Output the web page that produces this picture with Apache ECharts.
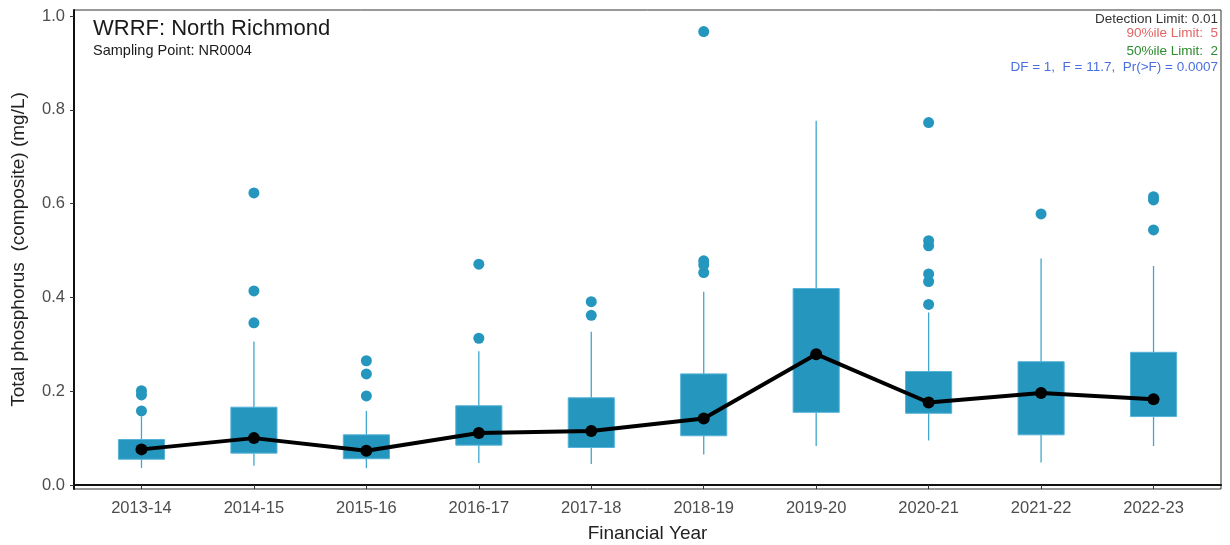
<!DOCTYPE html>
<html>
<head>
<meta charset="utf-8">
<script src="https://cdn.jsdelivr.net/npm/echarts@6/dist/echarts.min.js"></script>
<style>
  html, body { margin: 0; padding: 0; background: #fff; }
  #chart { width: 1230px; height: 545px; }
</style>
</head>
<body>
<div id="chart"></div>
<script>
// financial years on the x axis
var years = ['2013-14','2014-15','2015-16','2016-17','2017-18','2018-19','2019-20','2020-21','2021-22','2022-23'];

// box statistics per year (mg/L)
var whiskerLow  = [0.036, 0.041, 0.036, 0.047, 0.045, 0.065, 0.083, 0.095, 0.048, 0.083];
var q1          = [0.055, 0.068, 0.056, 0.085, 0.080, 0.105, 0.155, 0.153, 0.107, 0.146];
var q3          = [0.097, 0.166, 0.107, 0.169, 0.186, 0.237, 0.419, 0.242, 0.263, 0.283];
var whiskerHigh = [0.146, 0.306, 0.158, 0.285, 0.327, 0.412, 0.777, 0.368, 0.483, 0.467];

// black line through the middle of each year
var medians = [0.076, 0.100, 0.073, 0.111, 0.115, 0.142, 0.279, 0.176, 0.196, 0.183];

// outlying samples per year
var outliers = [
  [0.201, 0.192, 0.158],
  [0.346, 0.414, 0.623],
  [0.190, 0.237, 0.265],
  [0.313, 0.471],
  [0.362, 0.391],
  [0.453, 0.469, 0.478, 0.967],
  [],
  [0.385, 0.434, 0.450, 0.510, 0.521, 0.773],
  [0.578],
  [0.544, 0.608, 0.615]
];

var yTicks = [0, 0.2, 0.4, 0.6, 0.8, 1.0];
var xTicks = [1, 2, 3, 4, 5, 6, 7, 8, 9, 10];

var BOX_FILL = '#2596be';
var WHISKER = '#3fa7cf';
var FONT = 'Liberation Sans, Arial, sans-serif';

var boxData = years.map(function (y, i) {
  return [i + 1, whiskerLow[i], q1[i], q3[i], whiskerHigh[i]];
});
var lineData = medians.map(function (v, i) { return [i + 1, v]; });
var outlierData = [];
outliers.forEach(function (arr, i) {
  arr.forEach(function (v) { outlierData.push([i + 1, v]); });
});

var myChart = echarts.init(document.getElementById('chart'));
var option = {
  backgroundColor: '#fff',
  animation: false,
  textStyle: { fontFamily: FONT },
  grid: {
    left: 74, right: 9, top: 10, bottom: 56,
    containLabel: false,
    outerBoundsMode: 'none',
    show: true,
    borderColor: '#333',
    borderWidth: 1
  },
  xAxis: {
    type: 'value',
    min: 0.4,
    max: 10.6,
    name: 'Financial Year',
    nameLocation: 'middle',
    nameGap: 35,
    nameTextStyle: { fontSize: 19, color: '#222', fontFamily: FONT },
    axisLine: { lineStyle: { color: '#111', width: 2 } },
    axisTick: { show: true, length: 4, customValues: xTicks, lineStyle: { color: '#333', width: 1 } },
    axisLabel: {
      customValues: xTicks,
      margin: 11,
      fontSize: 16.5,
      color: '#4d4d4d',
      fontFamily: FONT,
      formatter: function (v) { return years[Math.round(v) - 1]; }
    },
    splitLine: { show: false }
  },
  yAxis: {
    type: 'value',
    min: -0.0085,
    max: 1.013,
    name: 'Total phosphorus  (composite) (mg/L)',
    nameLocation: 'middle',
    nameGap: 46,
    nameRotate: 90,
    nameTextStyle: { fontSize: 19, color: '#222', fontFamily: FONT },
    axisLine: { show: true, lineStyle: { color: '#111', width: 2 } },
    axisTick: { show: true, length: 4, customValues: yTicks, lineStyle: { color: '#333', width: 1 } },
    axisLabel: {
      customValues: yTicks,
      margin: 9,
      fontSize: 16.5,
      color: '#4d4d4d',
      fontFamily: FONT,
      formatter: function (v) { return v.toFixed(1); }
    },
    splitLine: { show: false }
  },
  graphic: [
    { type: 'text', left: 93, top: 18, style: { text: 'WRRF: North Richmond', fontSize: 22, fill: '#1a1a1a', fontFamily: FONT } },
    { type: 'text', left: 93, top: 43, style: { text: 'Sampling Point: NR0004', fontSize: 14.5, fill: '#1a1a1a', fontFamily: FONT } },
    { type: 'text', right: 12, top: 12, style: { text: 'Detection Limit: 0.01', fontSize: 13.5, fill: '#333', fontFamily: FONT, align: 'right' } },
    { type: 'text', right: 12, top: 26, style: { text: '90%ile Limit:  5', fontSize: 13.5, fill: '#e06666', fontFamily: FONT, align: 'right' } },
    { type: 'text', right: 12, top: 44, style: { text: '50%ile Limit:  2', fontSize: 13.5, fill: '#2e8b2e', fontFamily: FONT, align: 'right' } },
    { type: 'text', right: 12, top: 60, style: { text: 'DF = 1,  F = 11.7,  Pr(>F) = 0.0007', fontSize: 13.5, fill: '#4a6fe0', fontFamily: FONT, align: 'right' } }
  ],
  series: [
    {
      type: 'custom',
      name: 'box',
      data: boxData,
      encode: { x: 0, y: [1, 2, 3, 4] },
      z: 2,
      renderItem: function (params, api) {
        var x = api.value(0);
        var lo = api.coord([x, api.value(1)]);
        var b = api.coord([x, api.value(2)]);
        var t = api.coord([x, api.value(3)]);
        var hi = api.coord([x, api.value(4)]);
        var w = api.size([0.41, 0])[0];
        return {
          type: 'group',
          children: [
            { type: 'line', shape: { x1: hi[0], y1: hi[1], x2: t[0], y2: t[1] }, style: { stroke: WHISKER, lineWidth: 1.3 } },
            { type: 'line', shape: { x1: b[0], y1: b[1], x2: lo[0], y2: lo[1] }, style: { stroke: WHISKER, lineWidth: 1.3 } },
            { type: 'rect', shape: { x: t[0] - w / 2, y: t[1], width: w, height: b[1] - t[1] }, style: { fill: BOX_FILL, stroke: '#55b2d8', lineWidth: 1 } }
          ]
        };
      }
    },
    {
      type: 'scatter',
      name: 'outliers',
      data: outlierData,
      symbol: 'circle',
      symbolSize: 11,
      itemStyle: { color: BOX_FILL, opacity: 1 },
      z: 3
    },
    {
      type: 'line',
      name: 'median',
      data: lineData,
      symbol: 'circle',
      symbolSize: 12,
      lineStyle: { color: '#000', width: 4 },
      itemStyle: { color: '#000' },
      z: 4
    }
  ]
};
myChart.setOption(option);
</script>
</body>
</html>
